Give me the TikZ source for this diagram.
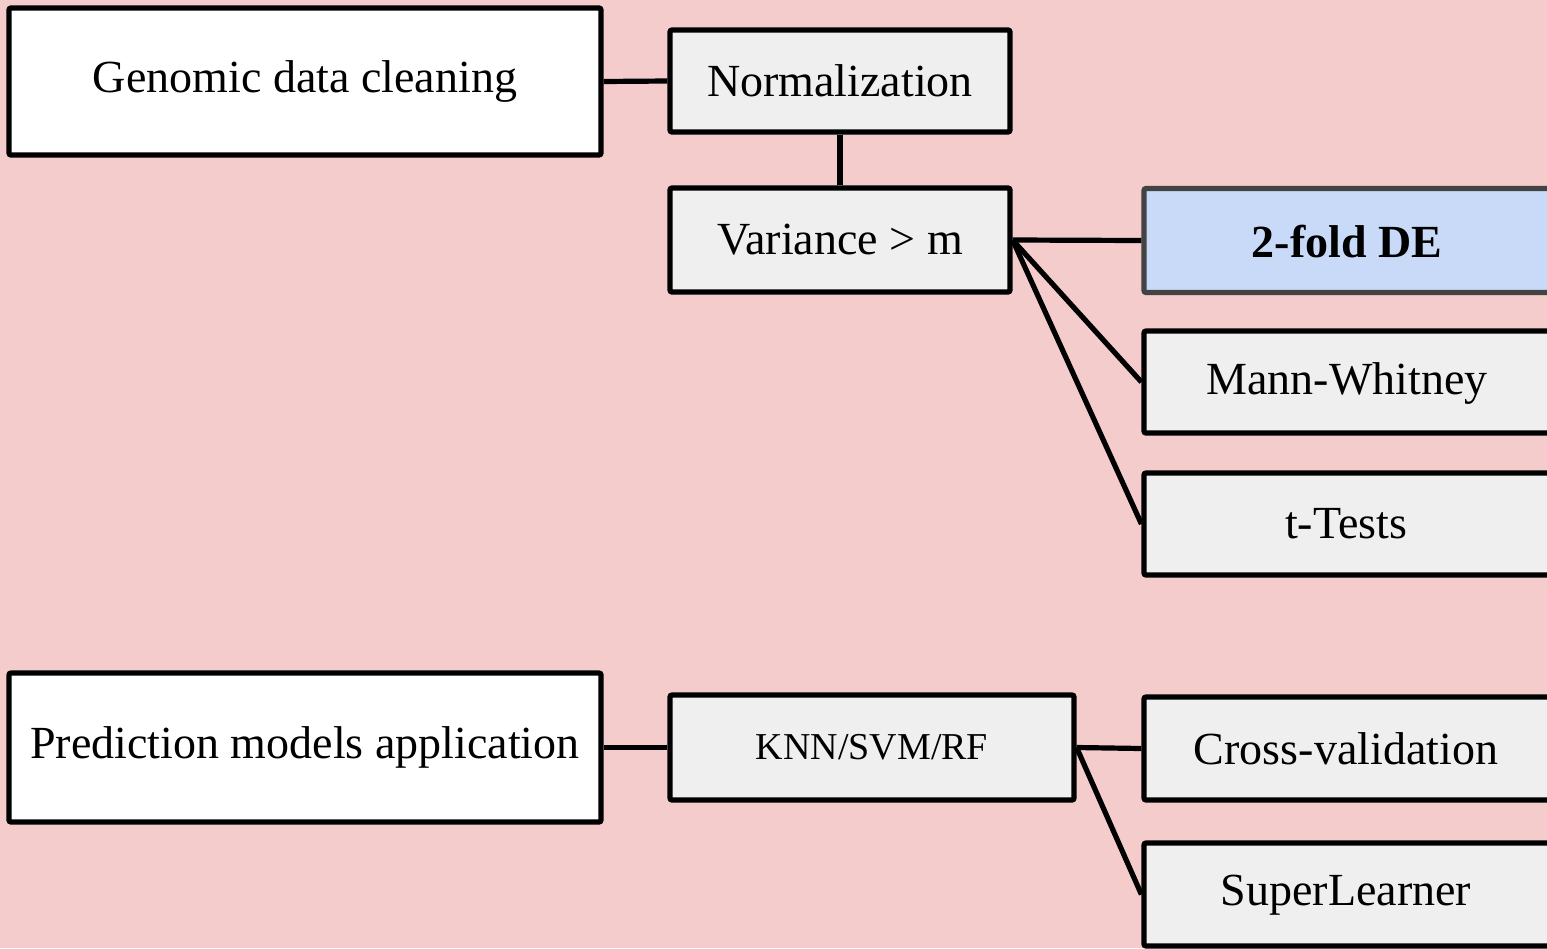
\documentclass[tikz,border=0pt]{standalone}
\usepackage{fontspec}
\setmainfont{Liberation Serif}
\definecolor{bgpink}{HTML}{F4CCCC}
\definecolor{boxgrey}{HTML}{EFEFEF}
\definecolor{boxblue}{HTML}{C9DAF8}
\definecolor{edgegrey}{HTML}{434343}
\begin{document}
\begin{tikzpicture}[x=0.5pt,y=-0.5pt,
  box/.style={draw=black,line width=2.6pt,rounded corners=1pt,inner sep=0pt,font=\fontsize{23}{27}\selectfont},
  white box/.style={box,fill=white},
  grey box/.style={box,fill=boxgrey},
  blue box/.style={box,fill=boxblue,draw=edgegrey},
  label/.style={font=\fontsize{23}{27}\selectfont},
  link/.style={line width=2.6pt,black}]
\fill[bgpink] (0,0) rectangle (1547,948);
\useasboundingbox (0,0) rectangle (1547,948);
% nodes
\node[white box,minimum width=296pt,minimum height=73.5pt] (gdc) at (305,81.5) {Genomic data cleaning};
\node[grey box,minimum width=170pt,minimum height=51pt] (norm) at (840,81) {Normalization};
\node[grey box,minimum width=170pt,minimum height=52pt] (var) at (840,240) {Variance > m};
\node[blue box,minimum width=204pt,minimum height=52pt] (de) at (1348,240.5) {};
\node[label,font=\fontsize{23}{27}\selectfont\bfseries] (detext) at (1347,242) {2-fold DE};
\node[grey box,minimum width=204pt,minimum height=51pt] (mw) at (1348,382) {};
\node[label] (mwtext) at (1347,383) {Mann-Whitney};
\node[grey box,minimum width=204pt,minimum height=51pt] (tt) at (1348,524) {};
\node[label] (tttext) at (1346,524) {t-Tests};
\node[white box,minimum width=296pt,minimum height=74.5pt] (pma) at (305,747.5) {Prediction models application};
\node[grey box,minimum width=202pt,minimum height=52.5pt,font=\fontsize{19}{22}\selectfont] (knn) at (872,747.5) {KNN/SVM/RF};
\node[grey box,minimum width=204pt,minimum height=51.5pt] (cv) at (1348,748.5) {};
\node[label] (cvtext) at (1346,749) {Cross-validation};
\node[grey box,minimum width=204pt,minimum height=51.5pt] (sl) at (1348,894.5) {};
\node[label] (sltext) at (1346,895) {SuperLearner};
% connectors
\draw[link] (gdc.east) -- (norm.west);
\draw[link] (norm.south) -- (var.north);
\draw[link] (var.east) -- (de.west);
\draw[link] (var.east) -- (mw.west);
\draw[link] (var.east) -- (tt.west);
\draw[link] (pma.east) -- (knn.west);
\draw[link] (knn.east) -- (cv.west);
\draw[link] (knn.east) -- (sl.west);
\end{tikzpicture}
\end{document}
